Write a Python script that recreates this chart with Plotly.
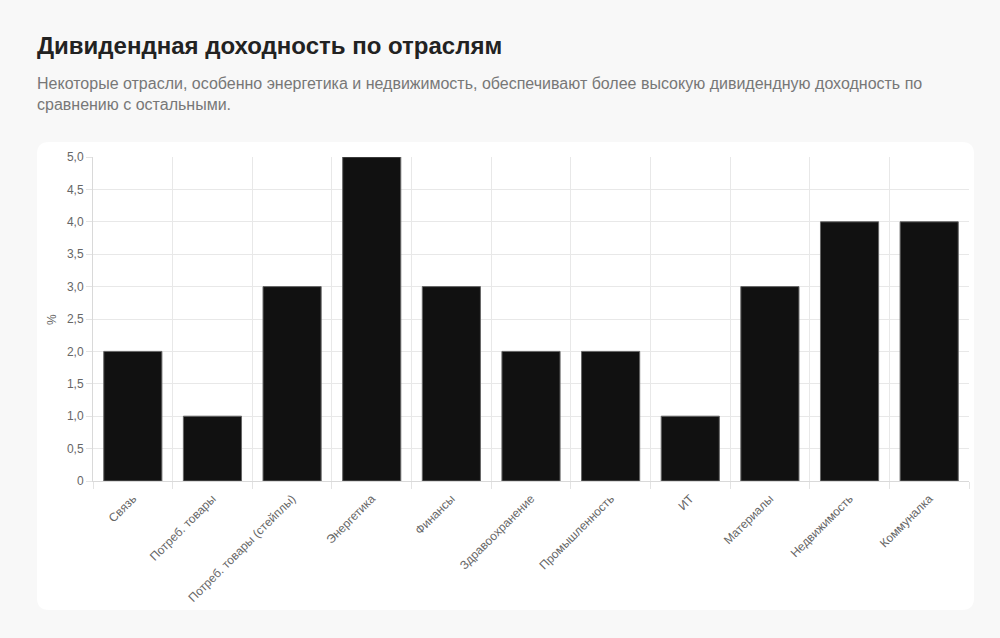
import plotly.graph_objects as go

sectors = ["Связь", "Потреб. товары", "Потреб. товары (стейплы)", "Энергетика",
           "Финансы", "Здравоохранение", "Промышленность", "ИТ",
           "Материалы", "Недвижимость", "Коммуналка"]
yield_pct = [2, 1, 3, 5, 3, 2, 2, 1, 3, 4, 4]

y_ticks = [0, 0.5, 1, 1.5, 2, 2.5, 3, 3.5, 4, 4.5, 5]
y_tick_labels = ["0", "0,5", "1,0", "1,5", "2,0", "2,5", "3,0", "3,5", "4,0", "4,5", "5,0"]

title = "Дивидендная доходность по отраслям"
subtitle = ("Некоторые отрасли, особенно энергетика и недвижимость, обеспечивают более высокую дивидендную доходность по"
            "<br>сравнению с остальными.")

W, H = 1000, 638
L, R, T, B = 93, 969, 157, 481   # plot area in pixels


def px_x(x):
    return (x - L) / (R - L)


def px_y(y):
    return (B - y) / (B - T)


# white card with rounded corners
cx0, cx1, cy0, cy1, rad = 37, 974, 142, 610, 12
pts = [
    f"M {px_x(cx0 + rad)},{px_y(cy0)}",
    f"L {px_x(cx1 - rad)},{px_y(cy0)}",
    f"Q {px_x(cx1)},{px_y(cy0)} {px_x(cx1)},{px_y(cy0 + rad)}",
    f"L {px_x(cx1)},{px_y(cy1 - rad)}",
    f"Q {px_x(cx1)},{px_y(cy1)} {px_x(cx1 - rad)},{px_y(cy1)}",
    f"L {px_x(cx0 + rad)},{px_y(cy1)}",
    f"Q {px_x(cx0)},{px_y(cy1)} {px_x(cx0)},{px_y(cy1 - rad)}",
    f"L {px_x(cx0)},{px_y(cy0 + rad)}",
    f"Q {px_x(cx0)},{px_y(cy0)} {px_x(cx0 + rad)},{px_y(cy0)} Z",
]

fig = go.Figure(go.Bar(
    x=sectors, y=yield_pct,
    marker=dict(color="#111111", line=dict(color="#666666", width=1)),
))

font = "Liberation Sans, Arial, Helvetica, sans-serif"

fig.update_layout(
    width=W, height=H,
    margin=dict(l=L, r=W - R, t=T, b=H - B),
    paper_bgcolor="#f8f8f8",
    plot_bgcolor="rgba(0,0,0,0)",
    font=dict(family=font, color="#666666"),
    bargap=0.27,
    showlegend=False,
    shapes=[dict(type="path", path=" ".join(pts), xref="paper", yref="paper",
                 fillcolor="white", line=dict(width=0), layer="below")],
    annotations=[
        dict(text=title, xref="paper", yref="paper", x=px_x(35), y=px_y(30),
             xanchor="left", yanchor="top", showarrow=False,
             font=dict(size=24, color="#222222", family=font, weight="bold")),
        dict(text=subtitle, xref="paper", yref="paper", x=px_x(35), y=px_y(73),
             xanchor="left", yanchor="top", showarrow=False, align="left",
             font=dict(size=16, color="#777777", family=font)),
        dict(text="%", xref="paper", yref="paper", x=px_x(52), y=px_y(320),
             xanchor="center", yanchor="middle", showarrow=False, textangle=-90,
             font=dict(size=12, color="#666666", family=font)),
    ],
)

fig.update_xaxes(
    tickangle=-45, tickson="boundaries", ticks="outside", ticklen=7,
    tickcolor="#e3e3e3", showgrid=True, gridcolor="#e8e8e8",
    showline=True, linecolor="#d9d9d9", mirror=False,
    ticklabelstandoff=5,
    tickfont=dict(size=12, color="#666666"),
)
fig.update_yaxes(
    range=[0, 5], tickvals=y_ticks, ticktext=y_tick_labels,
    ticks="outside", ticklen=6, tickcolor="#e3e3e3",
    showgrid=True, gridcolor="#e8e8e8", zeroline=False,
    showline=True, linecolor="#d9d9d9",
    tickfont=dict(size=12, color="#666666"),
)

# drop the page's default body margin so the figure sits at the window corner
fig.write_html("out.html",
               config={"displayModeBar": False},
               post_script="document.body.style.margin='0';"
                           "document.body.style.background='#f8f8f8';")
